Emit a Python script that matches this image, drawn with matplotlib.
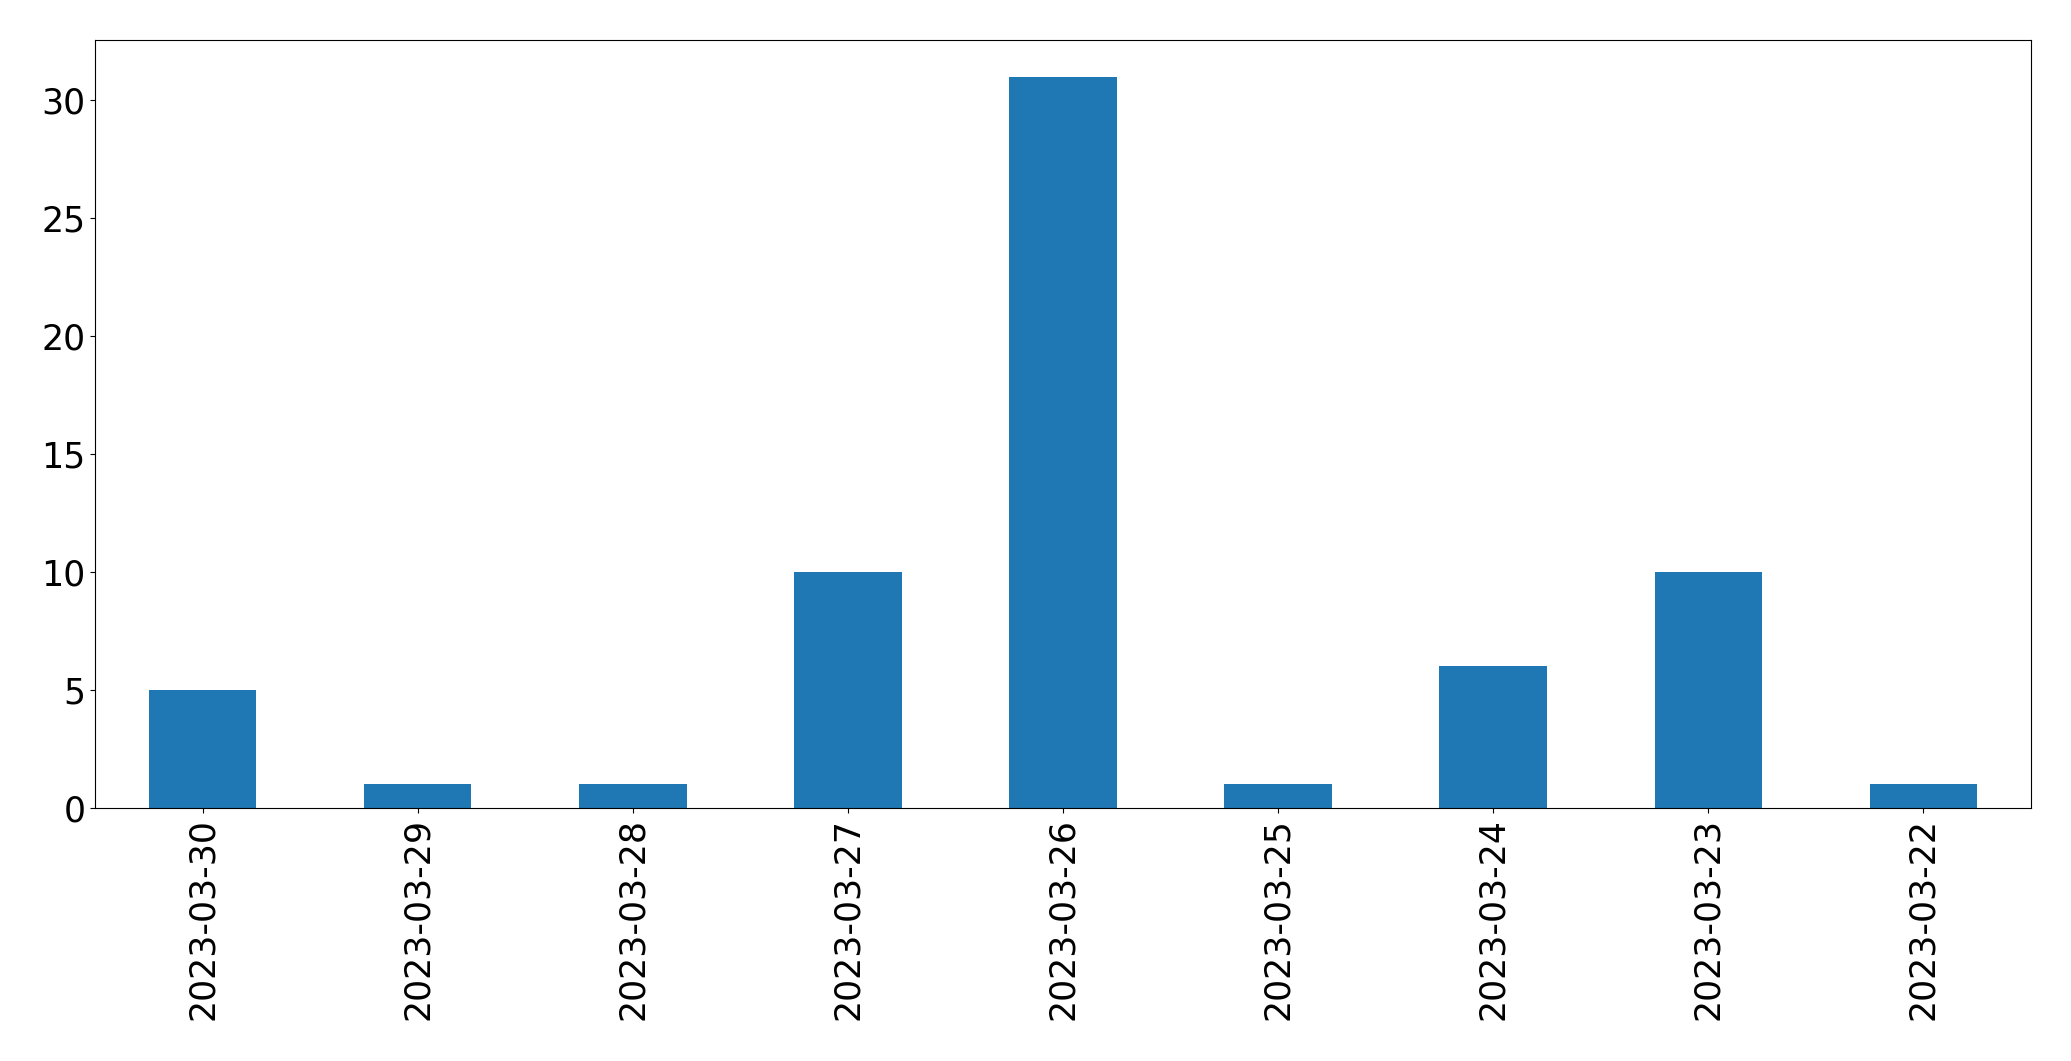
import matplotlib
matplotlib.use("Agg")
import matplotlib.pyplot as plt
import numpy as np

dates = ['2023-03-30', '2023-03-29', '2023-03-28', '2023-03-27', '2023-03-26',
         '2023-03-25', '2023-03-24', '2023-03-23', '2023-03-22']
counts = [5, 1, 1, 10, 31, 1, 6, 10, 1]

fig = plt.figure(figsize=(20.71, 10.61), dpi=100)
ax = fig.add_axes([95 / 2071, 1 - 808 / 1061, (2031 - 95) / 2071, (808 - 40) / 1061])

x = np.arange(len(dates))
ax.bar(x, counts, width=0.5, color='#1f77b4')
ax.set_xticks(x)
ax.set_xticklabels(dates, rotation=90)
ax.set_xlim(-0.5, len(dates) - 0.5)
ax.set_ylim(0, 32.55)
ax.tick_params(labelsize=25)

fig.savefig('out.png', dpi=100)
